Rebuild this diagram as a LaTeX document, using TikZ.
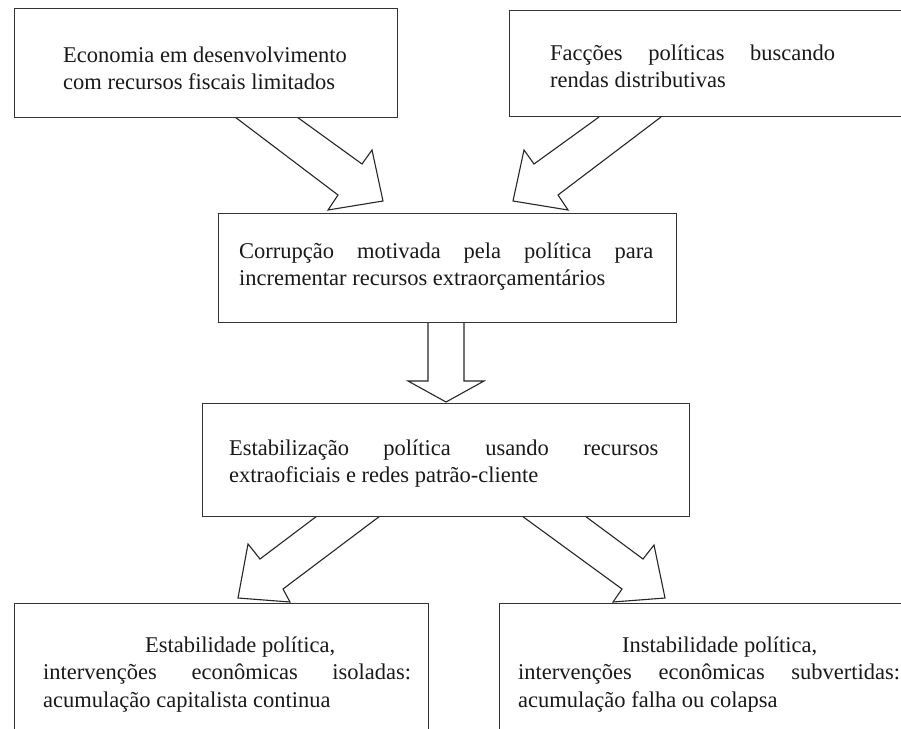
\documentclass[tikz,border=0pt]{standalone}
\usepackage{fontspec}
\setmainfont{Liberation Serif}
\begin{document}
\begin{tikzpicture}[x=1pt,y=-1pt,
  boxstyle/.style={draw=black!80, line width=1.3pt, fill=white, inner sep=0pt, anchor=north west},
  arrowstyle/.style={draw=black!85, line width=1.1pt, line join=miter},
  txt/.style={anchor=base west, inner sep=0pt, text=black!90, font=\fontsize{22.5}{27.5}\selectfont}]
\clip (0,0) rectangle (901,728);
\fill[white] (0,0) rectangle (901,728);
% block arrows
\draw[arrowstyle] (235,117) -- (338,195) -- (328,210) -- (383,201) -- (372,150) -- (362,164) -- (297,117);
\draw[arrowstyle] (661,117) -- (558,195) -- (568,210) -- (513,201) -- (524,150) -- (534,164) -- (599,117);
\draw[arrowstyle] (428,322) -- (428,381) -- (408,381) -- (446,402) -- (484,381) -- (464,381) -- (464,322);
\draw[arrowstyle] (317,516) -- (260,559) -- (248,544) -- (238,598) -- (290,602) -- (283,589) -- (380,516);
\draw[arrowstyle] (522,516) -- (622,589) -- (613,602) -- (665,598) -- (654,545) -- (643,559) -- (585,516);
% boxes
\node[boxstyle, minimum width=383pt, minimum height=109pt] (b1) at (14,8) {};
\node[boxstyle, minimum width=396pt, minimum height=106pt] (b2) at (509,10) {};
\node[boxstyle, minimum width=458pt, minimum height=109pt] (b3) at (218,213) {};
\node[boxstyle, minimum width=487pt, minimum height=113pt] (b4) at (202,403) {};
\node[boxstyle, minimum width=414pt, minimum height=140pt] (b5) at (14,603) {};
\node[boxstyle, minimum width=411pt, minimum height=140pt] (b6) at (499,603) {};
% texts
\node[txt] (t1) at (63,62) {\parbox[t]{330pt}{Economia em desenvolvimento\\com recursos fiscais limitados}};
\node[txt] (t2) at (550,60) {\parbox[t]{285pt}{Facções\hfill políticas\hfill buscando\\rendas distributivas}};
\node[txt] (t3) at (239,258) {\parbox[t]{414pt}{Corrupção\hfill motivada\hfill pela\hfill política\hfill para\\incrementar recursos extraorçamentários}};
\node[txt] (t4) at (229,455) {\parbox[t]{429pt}{Estabilização\hfill política\hfill usando\hfill recursos\\extraoficiais e redes patrão-cliente}};
\node[txt] (t5) at (43,652) {\parbox[t]{368pt}{\hspace*{102pt}Estabilidade política,\\intervenções\hfill econômicas\hfill isoladas:\\acumulação capitalista continua}};
\node[txt] (t6) at (518,652) {\parbox[t]{382pt}{\hspace*{104pt}Instabilidade política,\\intervenções\hfill econômicas\hfill subvertidas:\\acumulação falha ou colapsa}};
\end{tikzpicture}
\end{document}
